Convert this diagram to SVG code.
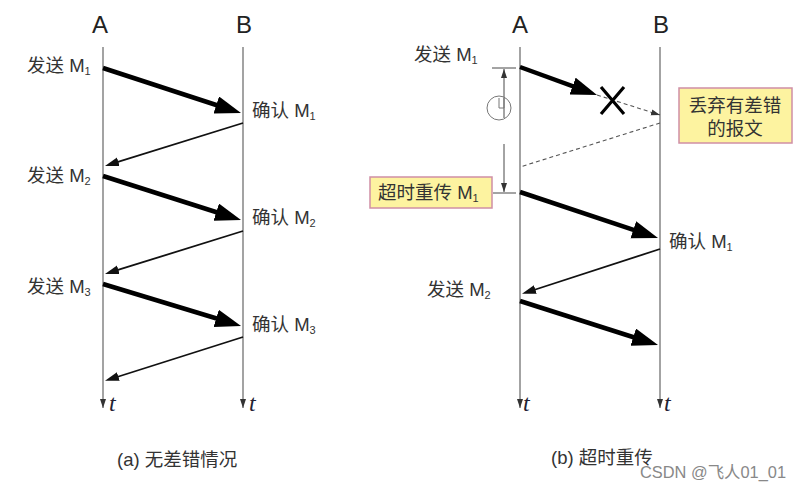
<svg xmlns="http://www.w3.org/2000/svg" width="800" height="490" viewBox="0 0 800 490">
<style>
text{font-family:"Liberation Sans","Noto Sans CJK SC",sans-serif;fill:#333;font-size:18.5px}
.h{font-size:24px;text-anchor:middle;fill:#222}
.t{font-family:"Liberation Serif",serif;font-style:italic;font-size:24px;fill:#223}
.sub{font-size:11px}
.cap{font-size:18.5px}
.life{stroke:#666;stroke-width:1.2;fill:none}
.thick{stroke:#000;stroke-width:4.5;fill:none}
.thin{stroke:#111;stroke-width:1.8;fill:none}
.dash{stroke:#555;stroke-width:1.1;stroke-dasharray:4 3;fill:none}
.dim{stroke:#333;stroke-width:.9;fill:none}
.note{fill:#fdf3a0;stroke:#cf8fa5;stroke-width:1.5}
</style>
<defs>
<marker id="big" markerUnits="userSpaceOnUse" markerWidth="28" markerHeight="20" refX="16" refY="9" orient="auto"><path d="M0 0L26 9L0 18Z" fill="#000"/></marker>
<marker id="small" markerUnits="userSpaceOnUse" markerWidth="16" markerHeight="10" refX="8" refY="4.5" orient="auto"><path d="M0 0L14 4.5L0 9Z" fill="#111"/></marker>
<marker id="tip" markerUnits="userSpaceOnUse" markerWidth="10" markerHeight="10" refX="9" refY="3" orient="auto"><path d="M0 0L9 3L0 6Z" fill="#333"/></marker>
</defs>
<g id="connectors">
<path class="life" marker-end="url(#tip)" d="M103 47V408"/>
<path class="life" marker-end="url(#tip)" d="M243 47V408"/>
<path class="life" marker-end="url(#tip)" d="M520 47V408"/>
<path class="life" marker-end="url(#tip)" d="M660 47V408"/>
<path class="thick" marker-end="url(#big)" d="M103 68L231.5 110"/>
<path class="thin" marker-end="url(#small)" d="M243 123L110.7 164.2"/>
<path class="thick" marker-end="url(#big)" d="M103 176L231.5 217"/>
<path class="thin" marker-end="url(#small)" d="M243 231L110.7 272.2"/>
<path class="thick" marker-end="url(#big)" d="M103 284L231.5 323"/>
<path class="thin" marker-end="url(#small)" d="M243 337L110.7 379"/>
<path class="thick" marker-end="url(#big)" d="M520 67L587.6 91.6"/>
<path class="dash" marker-end="url(#tip)" d="M597 95L660 115"/>
<path class="dash" d="M660 123L520 167"/>
<path class="thick" marker-end="url(#big)" d="M520 192L648.5 234.8"/>
<path class="thin" marker-end="url(#small)" d="M660 249L527.7 292"/>
<path class="thick" marker-end="url(#big)" d="M520 301L648.5 342"/>
<path class="dim" d="M492 68H516M493 193H516"/>
<path class="dim" marker-end="url(#tip)" d="M504 118V69"/>
<path class="dim" marker-end="url(#tip)" d="M504 144V192"/>
</g>
<g id="lost-x"><path stroke="#000" stroke-width="3.2" fill="none" d="M601 87L624 114M624 87L601 114"/></g>
<g id="timer" fill="none" stroke="#777" stroke-width="1">
<circle cx="499" cy="108" r="12"/><path d="M499 98V108H504V98"/>
</g>
<g id="head-a1"><text class="h" x="100" y="33">A</text></g>
<g id="head-b1"><text class="h" x="244" y="33">B</text></g>
<g id="head-a2"><text class="h" x="520" y="33">A</text></g>
<g id="head-b2"><text class="h" x="661" y="33">B</text></g>
<g id="a-labels">
<text x="27" y="72">发送 M<tspan class="sub" dy="3">1</tspan></text>
<text x="27" y="182">发送 M<tspan class="sub" dy="3">2</tspan></text>
<text x="27" y="293">发送 M<tspan class="sub" dy="3">3</tspan></text>
<text x="252" y="117">确认 M<tspan class="sub" dy="3">1</tspan></text>
<text x="252" y="224">确认 M<tspan class="sub" dy="3">2</tspan></text>
<text x="252" y="331">确认 M<tspan class="sub" dy="3">3</tspan></text>
</g>
<g id="b-labels">
<text x="414" y="61">发送 M<tspan class="sub" dy="3">1</tspan></text>
<text x="669" y="248">确认 M<tspan class="sub" dy="3">1</tspan></text>
<text x="427" y="296">发送 M<tspan class="sub" dy="3">2</tspan></text>
</g>
<g id="note-discard">
<rect class="note" x="679" y="88" width="113" height="55"/>
<text x="735" y="112" text-anchor="middle">丢弃有差错</text>
<text x="735" y="135" text-anchor="middle">的报文</text>
</g>
<g id="note-retransmit">
<rect class="note" x="370" y="177" width="122" height="31"/>
<text x="378" y="199">超时重传 M<tspan class="sub" dy="3">1</tspan></text>
</g>
<g id="t-labels">
<text class="t" x="109" y="411">t</text><text class="t" x="249" y="411">t</text>
<text class="t" x="523" y="411">t</text><text class="t" x="664" y="411">t</text>
</g>
<g id="captions">
<text class="cap" x="117" y="466">(a) 无差错情况</text>
<text class="cap" x="551" y="464">(b) 超时重传</text>
</g>
<g id="watermark"><text x="640" y="478" style="font-size:16.4px;fill:#888">CSDN @飞人01_01</text></g>
</svg>
